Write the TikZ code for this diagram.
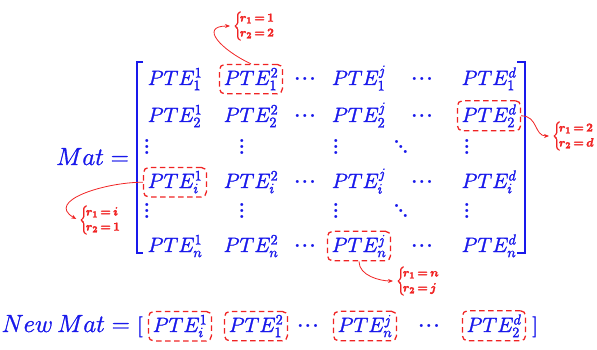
\documentclass[tikz,border=0pt]{standalone}
\usepackage{amsmath}
\usetikzlibrary{arrows.meta,fit}
\definecolor{matblue}{RGB}{25,25,235}
\definecolor{markred}{RGB}{240,35,35}
% slightly heavier glyphs: fill and stroke the outlines
\newcommand{\heavy}[1]{\special{pdf:literal q 2 Tr 0.3 w}#1\special{pdf:literal Q}}
% dots with spacing suited to the large entries
\newcommand{\rowdots}{\hbox{.\kern1.1pt.\kern1.1pt.}}
\newcommand{\coldots}{\vbox{\baselineskip6.3pt\lineskiplimit-10pt\hbox{.}\hbox{.}\hbox{.}}}
\newcommand{\diagdots}{\hbox{\raisebox{10pt}{.}\kern-2.2pt\raisebox{5pt}{.}\kern-2.2pt.}}
\newcommand{\rpair}[2]{\heavy{$\delimiterfactor=850 \delimitershortfall=6pt \relax
  \left\{\!\begin{array}{@{}l@{}}r_1\,{=}\,#1\\ r_2\,{=}\,#2\end{array}\right.$}}
\tikzset{
  entry/.style={text=matblue, inner sep=0pt, anchor=base, font=\fontsize{22.5}{26}\selectfont},
  lhs/.style={text=matblue, inner sep=0pt, anchor=base east, font=\fontsize{23.5}{28}\selectfont},
  dotsnode/.style={text=matblue, inner sep=0pt, font=\fontsize{21}{26}\selectfont\bfseries},
  hl/.style={draw=markred, line width=1.3pt, dash pattern=on 5.5pt off 3.5pt,
    rounded corners=5pt, inner xsep=4pt, inner ysep=3.5pt},
  note/.style={text=markred, inner sep=1pt, anchor=west,
    font=\fontsize{13}{15}\selectfont\boldmath},
  pointer/.style={draw=markred, line width=0.8pt, -{Stealth[length=5pt,width=4pt]}, shorten >=2pt},
  bracket/.style={draw=matblue, line width=2.6pt, line join=miter, line cap=butt},
}
\newcommand{\pte}[2]{\heavy{$PTE_{#1}^{#2}$}}
\begin{document}
\begin{tikzpicture}[x=1pt,y=-1pt]
\useasboundingbox (0,0) rectangle (597,350);

% left-hand side
\node[lhs] (mat) at (129,165) {\heavy{$Mat =$}};

% brackets of the matrix
\draw[bracket] (143,62) -| (137,253) -- (143,253);
\draw[bracket] (517,62) -| (525,253) -- (517,253);

% row 1
\node[entry] (e11) at (175,85) {\pte{1}{1}};
\node[entry] (e12) at (251,85) {\pte{1}{2}};
\node[dotsnode] (c13) at (305,79) {\rowdots};
\node[entry] (e1j) at (359,85) {\pte{1}{j}};
\node[dotsnode] (c15) at (422,79) {\rowdots};
\node[entry] (e1d) at (489,85) {\pte{1}{d}};
% row 2
\node[entry] (e21) at (175,122) {\pte{2}{1}};
\node[entry] (e22) at (251,122) {\pte{2}{2}};
\node[dotsnode] (c23) at (305,116) {\rowdots};
\node[entry] (e2j) at (359,122) {\pte{2}{j}};
\node[dotsnode] (c25) at (422,116) {\rowdots};
\node[entry] (e2d) at (489,122) {\pte{2}{d}};
% row 3
\node[dotsnode] (v31) at (147,147) {\coldots};
\node[dotsnode] (v32) at (242,147) {\coldots};
\node[dotsnode] (v34) at (336,147) {\coldots};
\node[dotsnode] (d35) at (401,147) {\diagdots};
\node[dotsnode] (v36) at (467,147) {\coldots};
% row 4
\node[entry] (ei1) at (175,188) {\pte{i}{1}};
\node[entry] (ei2) at (251,188) {\pte{i}{2}};
\node[dotsnode] (c43) at (305,182) {\rowdots};
\node[entry] (eij) at (359,188) {\pte{i}{j}};
\node[dotsnode] (c45) at (422,182) {\rowdots};
\node[entry] (eid) at (489,188) {\pte{i}{d}};
% row 5
\node[dotsnode] (v51) at (147,211) {\coldots};
\node[dotsnode] (v52) at (242,211) {\coldots};
\node[dotsnode] (v54) at (336,211) {\coldots};
\node[dotsnode] (d55) at (401,211) {\diagdots};
\node[dotsnode] (v56) at (467,211) {\coldots};
% row 6
\node[entry] (en1) at (175,252) {\pte{n}{1}};
\node[entry] (en2) at (251,252) {\pte{n}{2}};
\node[dotsnode] (c63) at (305,246) {\rowdots};
\node[entry] (enj) at (359,252) {\pte{n}{j}};
\node[dotsnode] (c65) at (422,246) {\rowdots};
\node[entry] (end) at (489,252) {\pte{n}{d}};

% highlighted entries
\node[hl, fit=(e12)] (b12) {};
\node[hl, fit=(e2d)] (b2d) {};
\node[hl, fit=(ei1)] (bi1) {};
\node[hl, fit=(enj)] (bnj) {};

% index notes
\node[note] (r12) at (232,26) {\rpair{1}{2}};
\node[note] (r2d) at (551,136) {\rpair{2}{d}};
\node[note] (ri1) at (78,220) {\rpair{i}{1}};
\node[note] (rnj) at (395,281) {\rpair{n}{j}};

\draw[pointer] (b12.north) to[out=155, in=180, looseness=2] (r12.west);
\draw[pointer] (b2d.east) to[out=0, in=180, looseness=1.2] (r2d.west);
\draw[pointer] (bi1.west) to[out=180, in=150, looseness=1.3] (ri1.west);
\draw[pointer] (bnj.south) to[out=-90, in=180, looseness=0.9] (rnj.west);

% flattened vector
\node[lhs] (newmat) at (130,332) {\heavy{$New\,Mat =$}};
\node[entry] (lb) at (140,332) {\heavy{$[$}};
\node[entry] (n1) at (180,332) {\pte{i}{1}};
\node[entry] (n2) at (256,332) {\pte{1}{2}};
\node[dotsnode] (nc1) at (308,326) {\rowdots};
\node[entry] (n3) at (365,332) {\pte{n}{j}};
\node[dotsnode] (nc2) at (429,326) {\rowdots};
\node[entry] (n4) at (494,332) {\pte{2}{d}};
\node[entry] (rb) at (535,332) {\heavy{$]$}};
\node[hl, fit=(n1)] (nb1) {};
\node[hl, fit=(n2)] (nb2) {};
\node[hl, fit=(n3)] (nb3) {};
\node[hl, fit=(n4)] (nb4) {};
\end{tikzpicture}
\end{document}
